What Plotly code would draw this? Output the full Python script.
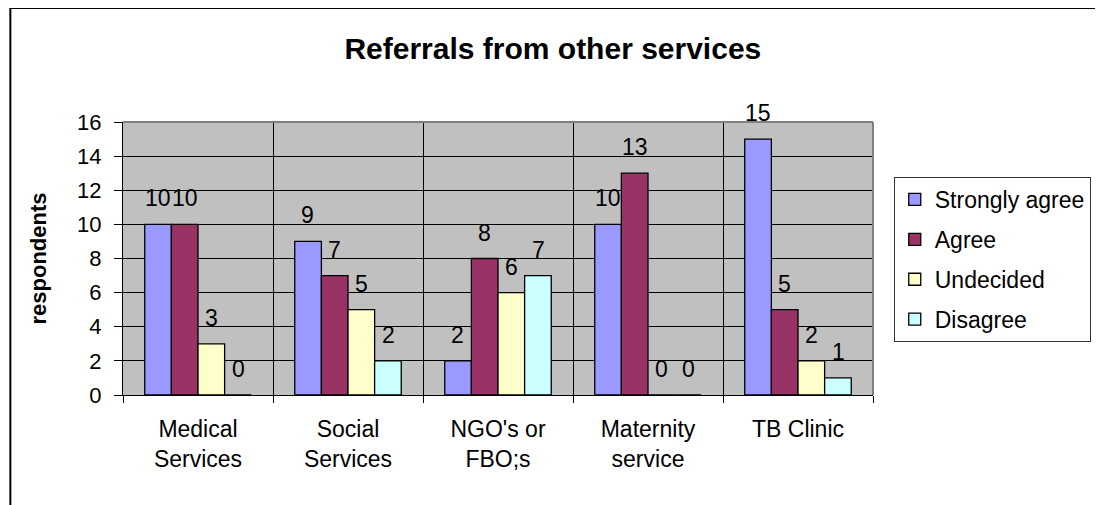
import plotly.graph_objects as go

categories = ["Medical<br>Services", "Social<br>Services", "NGO's or<br>FBO;s", "Maternity<br>service", "TB Clinic"]
series_names = ["Strongly agree", "Agree", "Undecided", "Disagree"]
strongly_agree = [10, 9, 2, 10, 15]
agree = [10, 7, 8, 13, 5]
undecided = [3, 5, 6, 0, 2]
disagree = [0, 2, 7, 0, 1]
colors = ["#9999FF", "#993366", "#FFFFCC", "#CCFFFF"]
y_ticks = [0, 2, 4, 6, 8, 10, 12, 14, 16]

FONT = "Liberation Sans, Arial, sans-serif"

# page is offset by the default 8px body margin
OFF = 8
W, H = 1103 - OFF, 505 - OFF
L, R, T, B = 123 - OFF, W - (882 - OFF), 122 - OFF, H - (395 - OFF)
pw, ph = W - L - R, H - T - B
BARGAP = 0.29
all_series = [strongly_agree, agree, undecided, disagree]
bar_w = pw / len(categories) * (1 - BARGAP) / len(all_series)

def px(x):
    return (x - OFF - L) / pw

def py(y):
    return (H - B - (y - OFF)) / ph

fig = go.Figure()
annotations = []
for i, (name, vals, col) in enumerate(zip(series_names, all_series, colors)):
    fig.add_trace(go.Bar(
        name=name, x=categories, y=vals, legendgroup=name,
        marker=dict(color=col, line=dict(color="black", width=1.3)),
        cliponaxis=False,
    ))
    shift = (i - (len(all_series) - 1) / 2) * bar_w
    for c, v in zip(categories, vals):
        annotations.append(dict(
            x=c, y=v, xref="x", yref="y", text=str(v), showarrow=False,
            xshift=shift, yshift=26, xanchor="center", yanchor="middle",
            font=dict(family=FONT, size=23, color="black"),
        ))

fig.update_layout(
    width=W, height=H,
    margin=dict(l=L, r=R, t=T, b=B),
    paper_bgcolor="white", plot_bgcolor="#C0C0C0",
    barmode="group", bargap=BARGAP, bargroupgap=0,
    font=dict(family=FONT, size=22, color="black"),
    title=dict(text="<b>Referrals from other services</b>", x=px(558), xref="paper", xanchor="center",
               y=1 - (48 - OFF) / H, yanchor="middle", font=dict(size=30, family=FONT, color="black")),
    legend=dict(x=px(903), y=py(177), xanchor="left", yanchor="top",
                bordercolor="#333333", borderwidth=1, bgcolor="white",
                font=dict(size=23, family=FONT), tracegroupgap=7),
    showlegend=True,
    xaxis=dict(tickson="boundaries", showgrid=True, gridcolor="black", gridwidth=1,
               ticks="outside", ticklen=7, tickcolor="black",
               showline=True, linecolor="black", linewidth=1,
               ticklabelstandoff=13,
               tickfont=dict(size=23, family=FONT)),
    yaxis=dict(range=[0, 16], tickvals=y_ticks, showgrid=True, gridcolor="black", gridwidth=1,
               ticks="outside", ticklen=8, tickcolor="black",
               showline=True, linecolor="black", linewidth=1, zeroline=False,
               ticklabelstandoff=8,
               tickfont=dict(size=22, family=FONT),
               title=dict(text="<b>respondents</b>", font=dict(size=22, family=FONT), standoff=24)),
    annotations=annotations,
    shapes=[
        dict(type="line", xref="paper", yref="paper", x0=1, x1=1, y0=0, y1=1, line=dict(color="#808080", width=2)),
        dict(type="line", xref="paper", yref="paper", x0=0, x1=1, y0=1, y1=1, line=dict(color="#808080", width=2)),
        dict(type="line", xref="paper", yref="paper", x0=px(8), x1=px(1110), y0=py(8), y1=py(8), line=dict(color="black", width=2)),
        dict(type="line", xref="paper", yref="paper", x0=px(9), x1=px(9), y0=py(7), y1=py(515), line=dict(color="black", width=2)),
    ],
)

fig.write_html("out.html")
